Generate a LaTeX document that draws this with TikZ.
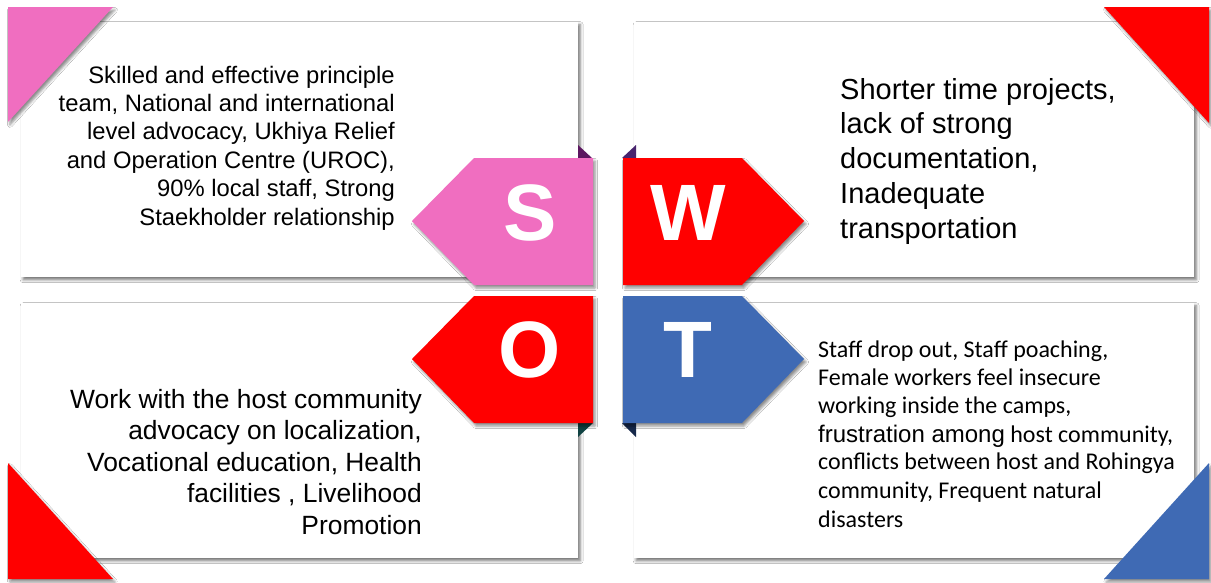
\documentclass[tikz,border=0pt]{standalone}
\usepackage{fontspec}
\setmainfont{Liberation Sans}
\newfontfamily\calib{Carlito}
\usetikzlibrary{shadows.blur}
\definecolor{swotpink}{RGB}{240,110,192}
\definecolor{swotred}{RGB}{255,0,0}
\definecolor{swotblue}{RGB}{63,106,180}
\definecolor{slvpurple}{RGB}{92,22,96}
\definecolor{slvviolet}{RGB}{72,36,110}
\definecolor{slvteal}{RGB}{16,66,66}
\definecolor{slvnavy}{RGB}{22,40,74}
\begin{document}
\begin{tikzpicture}[x=1pt,y=-1pt,
  box/.style={fill=white, draw=none, inner sep=0pt, anchor=north west,
    minimum width=#1, minimum height=255pt,
    blur shadow={shadow xshift=2pt, shadow yshift=-2.5pt, shadow blur radius=3pt, shadow opacity=55}},
  tabshadow/.style={blur shadow={shadow xshift=2pt, shadow yshift=-3pt, shadow blur radius=2.5pt, shadow opacity=45}},
  letter/.style={text=white, inner sep=0pt, anchor=base, font=\fontsize{80}{80}\selectfont\bfseries},
  txtS/.style={anchor=base east, inner sep=0pt, font=\fontsize{23.8}{28}\selectfont},
  txtW/.style={anchor=base west, inner sep=0pt, font=\fontsize{29}{35}\selectfont},
  txtO/.style={anchor=base east, inner sep=0pt, font=\fontsize{26.4}{31}\selectfont},
  txtT/.style={anchor=base west, inner sep=0pt, font=\fontsize{24}{28}\calib},
]
\useasboundingbox[fill=white] (0,0) rectangle (1211,582);

% boxes
\node[box=557pt] (boxS) at (21,22) {};
\node[box=560pt] (boxW) at (634,22) {};
\node[box=557pt] (boxO) at (21,303) {};
\node[box=560pt] (boxT) at (634,303) {};

% dark slivers near the centre
\fill[slvpurple] (578,145) -- (592,158) -- (578,158) -- cycle;
\fill[slvviolet] (636,145) -- (622,158) -- (636,158) -- cycle;
\fill[slvteal] (578,423) -- (593,423) -- (578,437) -- cycle;
\fill[slvnavy] (622,423) -- (636,423) -- (636,437) -- cycle;

% tabs
\fill[swotpink, tabshadow] (593,158) -- (474,158) -- (412,221) -- (474,285) -- (593,285) -- cycle;
\fill[swotred, tabshadow] (623,158) -- (742,158) -- (804,221) -- (742,285) -- (623,285) -- cycle;
\fill[swotred, tabshadow] (593,296) -- (474,296) -- (412,359) -- (474,423) -- (593,423) -- cycle;
\fill[swotblue, tabshadow] (623,296) -- (742,296) -- (804,359) -- (742,423) -- (623,423) -- cycle;

\node[letter] (S) at (530.5,240) {S};
\node[letter] (W) at (688,240) {W};
\node[letter] (O) at (530,377) {O};
\node[letter] (T) at (687.5,377) {T};

% corner triangles
\fill[swotpink, tabshadow] (8,7) -- (113,7) -- (8,122) -- cycle;
\fill[swotred, tabshadow] (1104,7) -- (1209,7) -- (1209,123) -- cycle;
\fill[swotred, tabshadow] (8,463) -- (113,579) -- (8,579) -- cycle;
\fill[swotblue, tabshadow] (1209,463) -- (1209,579) -- (1104,579) -- cycle;

% Strengths
\foreach \t [count=\i] in {{Skilled and effective principle},{team, National and international},{level advocacy, Ukhiya Relief},{and Operation Centre (UROC),},{90\% local staff, Strong},{Staekholder relationship}}
  \node[txtS] (s\i) at (395,83+28.4*\i-28.4) {\t};

% Weaknesses
\foreach \t [count=\i] in {{Shorter time projects,},{lack of strong},{documentation,},{Inadequate},{transportation}}
  \node[txtW] (w\i) at (840,99+34.8*\i-34.8) {\t};

% Opportunities
\foreach \t [count=\i] in {{Work with the host community},{advocacy on localization,},{Vocational education, Health},{facilities , Livelihood},{Promotion}}
  \node[txtO] (o\i) at (422,408+31.5*\i-31.5) {\t};

% Threats
\node[txtT] (t1) at (818,357) {Staff drop out, Staff poaching,};
\node[txtT] (t2) at (818,385) {Female workers feel insecure};
\node[txtT] (t3) at (818,413) {working inside the camps,};
\node[txtT] (t4) at (818,442) {{\rmfamily frustration among} host community,};
\node[txtT] (t5) at (818,469) {conflicts between host and Rohingya};
\node[txtT] (t6) at (818,498) {community, Frequent natural};
\node[txtT] (t7) at (818,527) {disasters};
\end{tikzpicture}
\end{document}
